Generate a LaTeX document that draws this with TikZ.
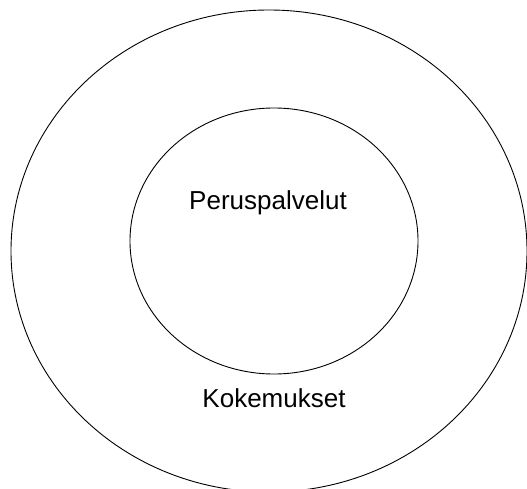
\documentclass[tikz,border=0pt]{standalone}
\usepackage{fontspec}
\setmainfont{Liberation Sans}
\usetikzlibrary{shapes.geometric,positioning}
\tikzset{
  ring/.style  = {ellipse, draw=black, line width=0.9pt, inner sep=0pt},
  lbl/.style   = {font=\fontsize{26}{30}\selectfont, anchor=base, inner sep=0pt},
}
\begin{document}
\begin{tikzpicture}[x=1pt, y=-1pt]
\useasboundingbox (0,0) rectangle (527,489);
\node[ring, minimum width=516pt, minimum height=482pt] (outer) at (269,251) {};
\node[ring, minimum width=288pt, minimum height=266pt] (inner) at (274,241) {};
\node[lbl] (core) at (268,209) {Peruspalvelut};
\node[lbl] (exp) at (274,407) {Kokemukset};
\end{tikzpicture}
\end{document}
